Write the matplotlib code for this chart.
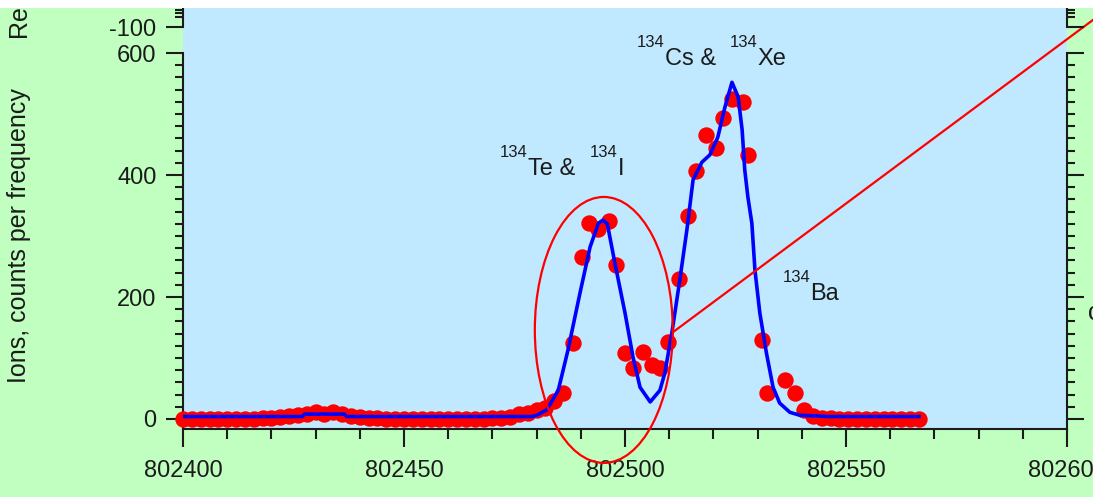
import matplotlib
matplotlib.use("Agg")
import matplotlib.pyplot as plt
from matplotlib.patches import Ellipse, Rectangle
from matplotlib.ticker import MultipleLocator, FixedLocator, FormatStrFormatter

# measured ions per frequency bin (A=134 isobars)
dot_freq = [802400, 802402, 802404, 802406, 802408, 802410, 802412, 802414, 802416, 802418,
            802420, 802422, 802424, 802426, 802428, 802430, 802432, 802434, 802436, 802438,
            802440, 802442, 802444, 802446, 802448, 802450, 802452, 802454, 802456, 802458,
            802460, 802462, 802464, 802466, 802468, 802470, 802472, 802474, 802476, 802478,
            802480, 802482, 802484,
            802486.0, 802488.2, 802490.2, 802491.8, 802494.0, 802496.4, 802498.0, 802500.0,
            802501.8, 802504.1, 802506.1, 802507.9, 802509.8, 802512.2, 802514.3, 802516.1,
            802518.3, 802520.6, 802522.1, 802524.1, 802526.6, 802527.9, 802531.1, 802532.1,
            802536.2, 802538.5,
            802540.5, 802542.5, 802544.5, 802546.5, 802548.5, 802550.5, 802552.5, 802554.5,
            802556.5, 802558.5, 802560.5, 802562.5, 802564.5, 802566.5]
dot_counts = [0, 0, 0, 0, 0, 0, 0, 0, 0, 1,
              2, 3, 5, 7, 9, 11, 9, 11, 8, 5,
              3, 2, 1, 0, 0, 0, 0, 0, 0, 0,
              0, 0, 0, 0, 0, 1, 2, 4, 8, 10,
              14, 18, 30,
              42, 125, 265, 321, 312, 324, 252, 108,
              84, 110, 88, 84, 127, 229, 333, 406,
              466, 444, 494, 525, 520, 433, 130, 43,
              64, 42,
              14, 5, 2, 1, 0, 0, 0, 0,
              0, 0, 0, 0, 0, 0]

# fitted line
fit_freq = [802400, 802427, 802427.5, 802436.5, 802437, 802479, 802480, 802482.3, 802484.9,
            802487.1, 802489.8, 802492.1, 802494, 802495, 802496, 802497.7, 802500, 802501.8,
            802503.4, 802505.7, 802507.9, 802509, 802510.6, 802512.4, 802514, 802515.4,
            802517.4, 802519.2, 802521, 802522.6, 802524.2, 802525.6, 802526.5, 802527.1,
            802527.8, 802528.7, 802529.4, 802530.5, 802532, 802533.5, 802535, 802537.3,
            802539.6, 802543.4, 802546, 802566.5]
fit_counts = [4, 4, 8, 8, 4, 4, 6, 15, 47,
              113, 206, 282, 321, 326, 320, 256, 174, 102,
              52, 28, 47, 75, 141, 228, 310, 392,
              421, 433, 462, 511, 552, 528, 474, 408,
              364, 321, 244, 174, 108, 52, 26, 11,
              6, 5, 4, 4]

# isobar labels: (text, is_superscript, gap before piece in points)
peak_labels = [
    [("134", True, 0), ("Te &", False, 0), ("134", True, 11), ("I", False, 0)],
    [("134", True, 0), ("Cs &", False, 0), ("134", True, 10), ("Xe", False, 0)],
    [("134", True, 0), ("Ba", False, 0)],
]
label_freq = [802471.7, 802502.7, 802535.7]
label_counts = [400, 580, 195]

plt.rcParams["font.family"] = ["Liberation Sans", "DejaVu Sans"]
plt.rcParams["axes.unicode_minus"] = False
plt.rcParams["text.color"] = "#1b1b1b"

W, H = 1093, 497
GREEN = "#C0FFC0"
SKY = "#C0E8FF"
INK = "#1b1b1b"


def px_box(x0, y0, x1, y1):
    return [x0 / W, 1 - y1 / H, (x1 - x0) / W, (y1 - y0) / H]


def isotope_label(ax, x, y, parts):
    prev = None
    for txt, sup, gap in parts:
        size = 12 if sup else 17
        rise = 13 if sup else 0
        if prev is None:
            prev = ax.annotate(txt, xy=(x, y), xycoords="data", xytext=(gap, rise),
                               textcoords="offset points", fontsize=size,
                               ha="left", va="baseline", zorder=6)
        else:
            prev = ax.annotate(txt, xy=(1, y), xycoords=(prev, "data"), xytext=(gap, rise),
                               textcoords="offset points", fontsize=size,
                               ha="left", va="baseline", zorder=6)


fig = plt.figure(figsize=(W / 100, H / 100), dpi=100, facecolor=GREEN)

# main spectrum panel
ax = fig.add_axes(px_box(183, 8, 1067, 429))
ax.set_facecolor(SKY)
ax.plot(dot_freq, dot_counts, "o", color="#FF0000", ms=11.8, mew=0, clip_on=False, zorder=3)
ax.plot(fit_freq, fit_counts, color="#0000FF", lw=2.6, zorder=4)

ax.set_xlim(802400, 802600)
ax.set_ylim(-16.4, 673.8)
ax.xaxis.set_major_locator(MultipleLocator(50))
ax.xaxis.set_minor_locator(MultipleLocator(10))
ax.xaxis.set_major_formatter(FormatStrFormatter("%d"))
ax.yaxis.set_major_locator(FixedLocator([0, 200, 400, 600]))
ax.yaxis.set_minor_locator(FixedLocator([v for v in range(20, 600, 20) if v % 200]))

ax.spines["top"].set_visible(False)
for side in ("left", "right", "bottom"):
    ax.spines[side].set_linewidth(1.5)
    ax.spines[side].set_color(INK)
ax.spines["left"].set_bounds(-16.4, 600)
ax.spines["right"].set_bounds(-16.4, 600)

ax.tick_params(axis="x", which="major", direction="out", length=13, width=1.5,
               pad=9, labelsize=17, colors=INK)
ax.tick_params(axis="x", which="minor", direction="out", length=7, width=1.5, colors=INK)
ax.tick_params(axis="y", which="both", left=True, right=True, labelright=False,
               direction="out", width=1.5, colors=INK)
ax.tick_params(axis="y", which="major", length=12, pad=7, labelsize=17)
ax.tick_params(axis="y", which="minor", length=6)

for parts, x, y in zip(peak_labels, label_freq, label_counts):
    isotope_label(ax, x, y, parts)

# marker around the first doublet and the guide line
ax.add_patch(Ellipse((802495.2, 146), width=31.2, height=436, fill=False,
                     ec="#FF0000", lw=1.6, clip_on=False, zorder=5))
ax.plot([802510.9, 802609.7], [142.6, 674.8], color="#FF0000", lw=1.6,
        clip_on=False, zorder=5)

# residuals panel (top strip)
ax2 = fig.add_axes(px_box(183, 8, 1067, 30))
ax2.patch.set_visible(False)
ax2.set_xlim(802400, 802600)
ax2.set_ylim(-117.6, 11.8)
ax2.set_xticks([])
ax2.yaxis.set_major_locator(FixedLocator([-100]))
ax2.yaxis.set_minor_locator(FixedLocator([-40, -20, 0]))
for side in ("top", "bottom"):
    ax2.spines[side].set_visible(False)
for side in ("left", "right"):
    ax2.spines[side].set_bounds(-100, 11.8)
    ax2.spines[side].set_linewidth(1.5)
    ax2.spines[side].set_color(INK)
ax2.tick_params(axis="y", which="both", left=True, right=True, labelright=False,
                direction="out", width=1.5, colors=INK)
ax2.tick_params(axis="y", which="major", length=12, pad=7, labelsize=17)
ax2.tick_params(axis="y", which="minor", length=6)

fig.text(19 / W, 1 - 236 / H, "Ions, counts per frequency", rotation=90,
         ha="center", va="center", fontsize=18)
fig.text(19 / W, 1 - 37 / H, "Residuals", rotation=90, ha="center", va="bottom", fontsize=18)
fig.text(1088 / W, 1 - 313 / H, "c", ha="left", va="center", fontsize=18)

fig.add_artist(Rectangle((0, 1 - 8 / H), 1, 8 / H, transform=fig.transFigure,
                         facecolor="white", edgecolor="none", zorder=20))

fig.savefig("out.png", dpi=100, facecolor=GREEN)
